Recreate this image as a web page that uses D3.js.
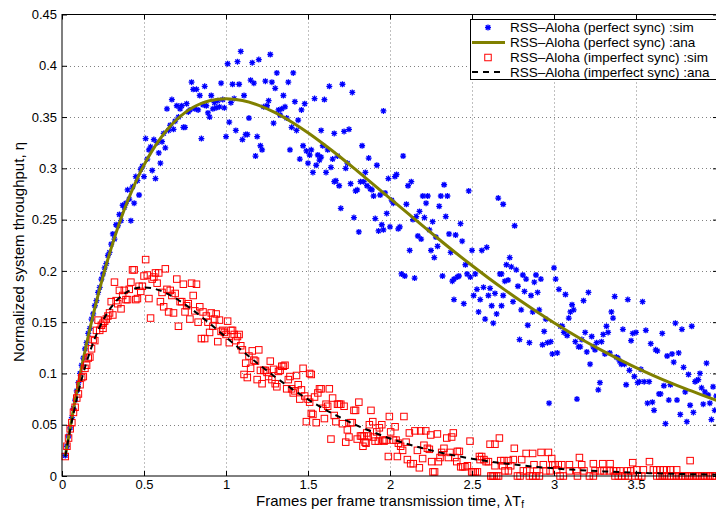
<!DOCTYPE html>
<html>
<head>
<meta charset="utf-8">
<script src="https://cdn.jsdelivr.net/npm/d3@7"></script>
<style>
body { margin: 0; background: #fff; }
text { font-family: "Liberation Sans", Arial, Helvetica, sans-serif; }
</style>
</head>
<body>
<div id="chart"></div>
<script>
var W = 716, H = 510;

var xTicks = [0, 0.5, 1, 1.5, 2, 2.5, 3, 3.5];
var yTicks = [0, 0.05, 0.1, 0.15, 0.2, 0.25, 0.3, 0.35, 0.4, 0.45];

var seriesNames = [
	"RSS\u2013Aloha (perfect sync) :sim",
	"RSS\u2013Aloha (perfect sync) :ana",
	"RSS\u2013Aloha (imperfect sync) :sim",
	"RSS\u2013Aloha (imperfect sync) :ana"
];

// analytical curves, read at these loads
var anaLoad = [0.02, 0.05, 0.1, 0.15, 0.2, 0.25, 0.3, 0.35, 0.4, 0.45, 0.5, 0.55, 0.6, 0.65, 0.7, 0.75, 0.8, 0.85, 0.9, 0.95, 1,
	1.1, 1.2, 1.3, 1.4, 1.5, 1.6, 1.7, 1.8, 1.9, 2, 2.1, 2.2, 2.3, 2.4, 2.5, 2.6, 2.7, 2.8, 2.9, 3,
	3.1, 3.2, 3.3, 3.4, 3.5, 3.6, 3.7, 3.8, 3.9, 4];
var perfectAna = [0.0196, 0.0476, 0.0905, 0.1291, 0.1637, 0.1947, 0.2222, 0.2466, 0.2681, 0.2869, 0.3033, 0.3173, 0.3293, 0.3393, 0.3476, 0.3543, 0.3595, 0.3633, 0.3659, 0.3674, 0.3679,
	0.3662, 0.3614, 0.3543, 0.3452, 0.3347, 0.3230, 0.3106, 0.2975, 0.2842, 0.2707, 0.2572, 0.2438, 0.2306, 0.2177, 0.2052, 0.1931, 0.1815, 0.1703, 0.1596, 0.1494,
	0.1397, 0.1304, 0.1217, 0.1135, 0.1057, 0.0984, 0.0915, 0.0851, 0.0791, 0.0733];
var imperfectAna = [0.0192, 0.0452, 0.0819, 0.1111, 0.1341, 0.1516, 0.1646, 0.1738, 0.1797, 0.1830, 0.1839, 0.1831, 0.1807, 0.1770, 0.1726, 0.1673, 0.1615, 0.1553, 0.1488, 0.1421, 0.1353,
	0.1219, 0.1089, 0.0966, 0.0852, 0.0747, 0.0652, 0.0568, 0.0492, 0.0426, 0.0366, 0.0315, 0.0270, 0.0231, 0.0198, 0.0168, 0.0143, 0.0122, 0.0104, 0.0088, 0.0074,
	0.0063, 0.0053, 0.0045, 0.0038, 0.0032, 0.0027, 0.0023, 0.0019, 0.0016, 0.0013];

// simulated points [load, throughput]
var perfectSim = [
	[0.02,0.020],[0.03,0.029],[0.04,0.039],[0.05,0.047],[0.06,0.057],[0.07,0.066],[0.08,0.074],[0.09,0.083],
	[0.10,0.091],[0.11,0.100],[0.12,0.108],[0.13,0.115],[0.14,0.124],[0.15,0.130],[0.16,0.139],[0.17,0.144],[0.18,0.153],[0.19,0.158],
	[0.20,0.166],[0.21,0.171],[0.22,0.179],[0.23,0.184],[0.24,0.192],[0.25,0.197],[0.26,0.203],[0.27,0.207],[0.28,0.215],[0.29,0.218],[0.30,0.226],
	[0.31,0.236],[0.32,0.231],[0.33,0.245],[0.34,0.244],[0.35,0.255],[0.36,0.249],[0.37,0.264],[0.38,0.262],[0.39,0.266],[0.40,0.279],
	[0.41,0.270],[0.42,0.249],[0.43,0.282],[0.44,0.266],[0.45,0.292],[0.46,0.288],[0.47,0.274],[0.48,0.299],[0.49,0.302],[0.50,0.292],
	[0.51,0.329],[0.52,0.309],[0.53,0.318],[0.54,0.321],[0.55,0.298],[0.56,0.328],[0.57,0.290],[0.58,0.325],[0.59,0.315],[0.60,0.305],
	[0.61,0.326],[0.62,0.334],[0.63,0.320],[0.64,0.358],[0.65,0.337],[0.66,0.342],[0.67,0.367],[0.68,0.338],[0.69,0.346],[0.70,0.361],
	[0.71,0.350],[0.72,0.358],[0.73,0.361],[0.74,0.340],[0.75,0.340],[0.76,0.363],[0.77,0.355],[0.78,0.357],[0.79,0.384],[0.80,0.377],
	[0.81,0.358],[0.82,0.377],[0.83,0.357],[0.84,0.371],[0.85,0.329],[0.86,0.362],[0.87,0.380],[0.88,0.361],[0.89,0.354],[0.90,0.350],
	[0.91,0.371],[0.92,0.358],[0.93,0.364],[0.94,0.359],[0.95,0.366],[0.96,0.360],[0.97,0.383],[0.98,0.367],[0.99,0.359],[1.00,0.331],
	[1.01,0.402],[1.02,0.345],[1.03,0.364],[1.04,0.382],[1.05,0.368],[1.06,0.337],[1.07,0.404],[1.08,0.382],[1.09,0.414],[1.10,0.328],
	[1.11,0.371],[1.12,0.333],[1.13,0.333],[1.14,0.349],[1.15,0.386],[1.16,0.403],[1.17,0.383],[1.18,0.312],[1.19,0.331],[1.20,0.406],
	[1.21,0.322],[1.22,0.318],[1.23,0.360],[1.24,0.385],[1.25,0.361],[1.26,0.366],[1.27,0.411],[1.28,0.384],[1.29,0.344],[1.30,0.378],
	[1.31,0.393],[1.32,0.357],[1.33,0.352],[1.34,0.358],[1.35,0.371],[1.36,0.360],[1.37,0.349],[1.38,0.384],[1.39,0.318],[1.40,0.340],
	[1.41,0.393],[1.42,0.365],[1.43,0.337],[1.44,0.347],[1.45,0.309],[1.46,0.357],[1.47,0.322],[1.48,0.363],[1.49,0.317],[1.50,0.305],
	[1.51,0.313],[1.52,0.318],[1.53,0.296],[1.54,0.368],[1.55,0.303],[1.56,0.313],[1.57,0.308],[1.58,0.337],[1.58,0.311],[1.59,0.322],[1.60,0.367],
	[1.61,0.296],[1.62,0.318],[1.63,0.380],[1.64,0.301],[1.65,0.309],[1.66,0.334],[1.66,0.287],[1.67,0.288],[1.68,0.312],[1.69,0.283],[1.70,0.261],
	[1.71,0.382],[1.72,0.336],[1.73,0.300],[1.74,0.305],[1.75,0.338],[1.76,0.285],[1.77,0.374],[1.78,0.252],[1.79,0.278],[1.80,0.279],
	[1.81,0.238],[1.82,0.287],[1.83,0.322],[1.84,0.287],[1.85,0.296],[1.86,0.283],[1.87,0.310],[1.88,0.280],[1.89,0.279],[1.90,0.273],
	[1.91,0.251],[1.92,0.303],[1.93,0.239],[1.94,0.274],[1.95,0.245],[1.96,0.356],[1.96,0.240],[1.97,0.276],[1.98,0.256],[1.99,0.290],[2.00,0.243],
	[2.01,0.269],[2.02,0.266],[2.03,0.292],[2.04,0.294],[2.05,0.241],[2.06,0.243],[2.07,0.197],[2.08,0.312],[2.09,0.195],[2.10,0.265],
	[2.11,0.283],[2.12,0.220],[2.13,0.287],[2.14,0.250],[2.15,0.193],[2.16,0.253],[2.17,0.234],[2.18,0.258],[2.19,0.231],[2.20,0.273],
	[2.21,0.252],[2.22,0.266],[2.23,0.273],[2.24,0.240],[2.25,0.220],[2.26,0.248],[2.27,0.213],[2.28,0.233],[2.29,0.224],[2.30,0.263],
	[2.31,0.273],[2.32,0.195],[2.33,0.284],[2.34,0.253],[2.35,0.273],[2.36,0.236],[2.37,0.218],[2.38,0.190],[2.39,0.192],[2.39,0.172],[2.40,0.235],
	[2.41,0.194],[2.42,0.195],[2.43,0.246],[2.44,0.229],[2.45,0.168],[2.46,0.206],[2.47,0.197],[2.48,0.278],[2.49,0.194],[2.50,0.220],
	[2.51,0.176],[2.52,0.197],[2.53,0.182],[2.54,0.160],[2.55,0.172],[2.56,0.220],[2.57,0.184],[2.58,0.153],[2.59,0.223],[2.60,0.176],
	[2.61,0.183],[2.62,0.166],[2.63,0.149],[2.64,0.178],[2.65,0.158],[2.66,0.271],[2.67,0.197],[2.68,0.166],[2.68,0.197],[2.69,0.265],[2.69,0.176],[2.70,0.190],
	[2.71,0.206],[2.72,0.191],[2.73,0.213],[2.74,0.204],[2.75,0.170],[2.76,0.244],[2.77,0.201],[2.78,0.185],[2.79,0.133],[2.80,0.162],
	[2.81,0.196],[2.82,0.180],[2.83,0.192],[2.84,0.147],[2.85,0.130],[2.86,0.176],[2.87,0.160],[2.88,0.189],[2.89,0.196],[2.90,0.179],
	[2.91,0.162],[2.92,0.192],[2.93,0.128],[2.94,0.141],[2.95,0.153],[2.96,0.130],[2.97,0.071],[2.98,0.131],[2.99,0.119],[3.00,0.203],
	[3.01,0.192],[3.02,0.120],[3.03,0.182],[3.04,0.146],[3.05,0.146],[3.06,0.140],[3.07,0.177],[3.08,0.137],[3.09,0.154],[3.10,0.160],
	[3.11,0.167],[3.12,0.162],[3.13,0.131],[3.14,0.075],[3.15,0.126],[3.16,0.126],[3.17,0.133],[3.18,0.171],[3.19,0.140],[3.20,0.121],
	[3.21,0.179],[3.22,0.109],[3.23,0.136],[3.24,0.126],[3.25,0.123],[3.26,0.130],[3.27,0.084],[3.28,0.091],[3.29,0.131],[3.30,0.138],
	[3.31,0.119],[3.32,0.146],[3.33,0.140],[3.34,0.120],[3.35,0.160],[3.36,0.154],[3.37,0.175],[3.38,0.116],[3.39,0.115],[3.40,0.112],
	[3.41,0.109],[3.42,0.143],[3.43,0.109],[3.44,0.089],[3.45,0.172],[3.46,0.103],[3.47,0.132],[3.48,0.139],[3.49,0.097],[3.50,0.140],
	[3.51,0.091],[3.52,0.092],[3.53,0.104],[3.54,0.170],[3.55,0.092],[3.56,0.142],[3.57,0.071],[3.58,0.092],[3.59,0.129],[3.60,0.072],
	[3.61,0.064],[3.62,0.123],[3.63,0.122],[3.64,0.080],[3.65,0.080],[3.66,0.139],[3.67,0.088],[3.68,0.051],[3.69,0.117],[3.70,0.074],
	[3.71,0.089],[3.72,0.119],[3.73,0.111],[3.74,0.149],[3.75,0.074],[3.76,0.120],[3.77,0.060],[3.78,0.143],[3.79,0.106],[3.80,0.082],
	[3.81,0.053],[3.82,0.099],[3.83,0.069],[3.84,0.146],[3.85,0.062],[3.86,0.092],[3.87,0.093],[3.88,0.094],[3.89,0.100],[3.90,0.086],
	[3.91,0.070],[3.92,0.082],[3.93,0.110],[3.94,0.079],[3.95,0.071],[3.96,0.055],[3.97,0.087],[3.98,0.064],[3.99,0.078]
];

var imperfectSim = [
	[0.02,0.019],[0.03,0.029],[0.04,0.037],[0.05,0.046],[0.06,0.052],[0.07,0.062],[0.08,0.067],[0.09,0.076],[0.10,0.080],
	[0.11,0.089],[0.12,0.096],[0.13,0.097],[0.14,0.105],[0.15,0.108],[0.16,0.115],[0.17,0.116],[0.18,0.124],[0.19,0.133],[0.20,0.132],
	[0.21,0.142],[0.22,0.152],[0.23,0.142],[0.24,0.147],[0.25,0.144],[0.25,0.149],[0.26,0.151],[0.27,0.153],[0.28,0.156],[0.29,0.159],[0.30,0.170],
	[0.31,0.157],[0.32,0.189],[0.33,0.171],[0.34,0.168],[0.35,0.181],[0.36,0.163],[0.37,0.176],[0.38,0.181],[0.39,0.172],[0.40,0.172],
	[0.41,0.182],[0.42,0.189],[0.43,0.201],[0.44,0.201],[0.45,0.172],[0.46,0.173],[0.47,0.185],[0.48,0.180],[0.49,0.185],[0.50,0.195],
	[0.51,0.211],[0.52,0.196],[0.53,0.173],[0.54,0.154],[0.55,0.192],[0.56,0.194],[0.57,0.198],[0.58,0.188],[0.59,0.198],[0.60,0.170],
	[0.61,0.179],[0.62,0.165],[0.63,0.202],[0.64,0.182],[0.65,0.160],[0.66,0.181],[0.67,0.176],[0.68,0.159],[0.69,0.178],[0.70,0.192],
	[0.71,0.146],[0.72,0.170],[0.73,0.170],[0.74,0.187],[0.75,0.160],[0.76,0.166],[0.77,0.168],[0.78,0.153],[0.79,0.188],[0.80,0.176],
	[0.81,0.161],[0.82,0.187],[0.83,0.150],[0.84,0.165],[0.85,0.134],[0.86,0.160],[0.87,0.134],[0.88,0.156],[0.89,0.150],[0.90,0.140],
	[0.91,0.159],[0.92,0.146],[0.93,0.153],[0.94,0.158],[0.95,0.131],[0.96,0.152],[0.97,0.141],[0.98,0.142],[0.99,0.140],[1.00,0.138],
	[1.01,0.151],[1.02,0.130],[1.03,0.142],[1.04,0.142],[1.05,0.138],[1.06,0.132],[1.07,0.136],[1.08,0.138],[1.09,0.127],[1.10,0.123],
	[1.11,0.099],[1.12,0.110],[1.13,0.096],[1.14,0.117],[1.15,0.105],[1.16,0.122],[1.17,0.113],[1.18,0.112],[1.19,0.094],[1.20,0.123],
	[1.21,0.103],[1.22,0.090],[1.23,0.103],[1.24,0.103],[1.25,0.101],[1.26,0.097],[1.27,0.112],[1.28,0.094],[1.29,0.104],[1.30,0.090],
	[1.31,0.087],[1.32,0.102],[1.33,0.103],[1.34,0.107],[1.35,0.107],[1.36,0.108],[1.37,0.085],[1.38,0.094],[1.39,0.097],[1.40,0.085],
	[1.41,0.081],[1.42,0.083],[1.43,0.098],[1.44,0.089],[1.45,0.075],[1.46,0.084],[1.47,0.105],[1.48,0.078],[1.49,0.053],[1.50,0.075],
	[1.51,0.100],[1.51,0.072],[1.52,0.061],[1.52,0.099],[1.53,0.060],[1.54,0.077],[1.55,0.052],[1.56,0.081],[1.57,0.085],[1.58,0.085],[1.59,0.066],[1.60,0.056],
	[1.61,0.070],[1.62,0.068],[1.63,0.085],[1.64,0.036],[1.65,0.076],[1.66,0.059],[1.67,0.053],[1.68,0.070],[1.69,0.070],[1.70,0.070],
	[1.71,0.051],[1.72,0.068],[1.73,0.033],[1.74,0.045],[1.75,0.038],[1.76,0.052],[1.77,0.052],[1.78,0.064],[1.79,0.064],[1.80,0.036],
	[1.81,0.072],[1.82,0.039],[1.83,0.039],[1.835,0.029],[1.842,0.039],[1.848,0.033],[1.854,0.032],[1.858,0.042],[1.868,0.039],[1.874,0.050],[1.884,0.064],[1.895,0.053],[1.899,0.038],
	[1.909,0.034],[1.919,0.043],[1.929,0.034],[1.935,0.047],[1.950,0.050],[1.956,0.035],[1.964,0.034],[1.976,0.035],[1.990,0.019],[1.996,0.058],[2.004,0.043],
	[2.021,0.035],[2.031,0.048],[2.037,0.035],[2.045,0.019],[2.051,0.032],
	[2.065,0.029],[2.077,0.025],[2.085,0.058],[2.098,0.033],[2.106,0.016],[2.118,0.042],[2.126,0.012],[2.142,0.012],[2.152,0.044],[2.167,0.025],[2.179,0.008],[2.187,0.044],[2.199,0.017],
	[2.207,0.030],[2.218,0.044],[2.228,0.027],[2.240,0.026],[2.248,0.040],[2.254,0.014],[2.262,0.004],[2.272,0.004],[2.289,0.041],[2.295,0.014],[2.305,0.018],[2.315,0.023],[2.329,0.027],
	[2.346,0.037],[2.356,0.018],[2.366,0.023],[2.376,0.038],[2.386,0.042],[2.396,0.018],[2.407,0.014],[2.411,0.024],[2.423,0.024],[2.431,0.009],[2.443,0.009],[2.457,0.009],[2.472,0.010],
	[2.488,0.034],[2.498,0.004],[2.508,0.004],[2.520,0.004],[2.533,0.004],[2.545,0.019],[2.549,0.016],[2.559,0.019],[2.573,0.016],[2.586,0.014],[2.600,0.014],[2.610,0.031],[2.615,0],
	[2.625,0],[2.635,0],[2.640,0.031],[2.640,0.010],[2.650,0],[2.662,0],[2.667,0.037],[2.675,0.015],[2.687,0.010],[2.695,0.015],[2.701,0.005],[2.722,0.015],[2.722,0.005],[2.736,0.010],
	[2.752,0.016],[2.758,0.027],[2.777,0],[2.793,0],[2.803,0.016],[2.813,0.005],[2.830,0.022],[2.834,0.005],[2.850,0],[2.870,0.022],[2.870,0],[2.878,0.011],[2.890,0],[2.895,0.005],
	[2.911,0],[2.921,0.023],[2.935,0.011],[2.951,0.005],[2.966,0.023],[2.976,0.005],[2.986,0.017],[2.992,0.011],[3.006,0.011],[3.016,0.006],[3.026,0.011],[3.037,0],[3.047,0.011],
	[3.057,0],[3.094,0.011],[3.094,0.005],[3.139,0.005],[3.143,0],[3.155,0.018],[3.169,0.011],[3.183,0.005],[3.216,0],[3.240,0],[3.240,0.012],[3.250,0.005],[3.281,0.005],
	[3.297,0.012],[3.305,0.005],[3.338,0.005],[3.342,0.012],[3.362,0.005],[3.372,0],[3.382,0.005],[3.392,0],[3.403,0.005],[3.413,0],[3.433,0],[3.448,0.005],[3.453,0],[3.468,0.005],
	[3.480,0.013],[3.494,0],[3.504,0.006],[3.515,0],[3.535,0],[3.545,0.006],[3.582,0.014],[3.606,0.006],[3.626,0.006],[3.627,0],[3.645,0],[3.647,0.006],[3.660,0],[3.667,0.006],
	[3.675,0],[3.687,0.006],[3.690,0],[3.710,0],[3.712,0.006],[3.730,0],[3.745,0],[3.748,0.006],[3.760,0],[3.780,0],[3.800,0],[3.815,0],[3.830,0.015],[3.830,0],[3.850,0],[3.865,0],
	[3.880,0],[3.900,0],[3.915,0],[3.930,0],[3.950,0],[3.965,0],[3.980,0]
];

var blue = "#0000ff";
var red = "#ff0000";
var olive = "#808000";
var tickFont = "13px";
var labelFont = "15px";
var sq = 6.5;

var plotL = 62, plotR = 718, plotT = 14.5, plotB = 476;

var x = d3.scaleLinear().domain([0, 4]).range([plotL, plotR]);
var y = d3.scaleLinear().domain([0, 0.45]).range([plotB, plotT]);

var svg = d3.select("#chart").append("svg")
	.attr("width", W)
	.attr("height", H);

svg.append("rect").attr("width", W).attr("height", H).attr("fill", "#fff");

svg.append("defs").append("clipPath").attr("id", "plotclip")
	.append("rect")
	.attr("x", plotL).attr("y", plotT)
	.attr("width", plotR - plotL).attr("height", plotB - plotT);

// dotted grid
var grid = svg.append("g").attr("stroke", "#808080").attr("stroke-width", 1).attr("stroke-dasharray", "1,3");
grid.selectAll("line.gx")
	.data(xTicks.slice(1))
	.enter()
	.append("line")
	.attr("x1", d => Math.round(x(d)) + 0.5)
	.attr("x2", d => Math.round(x(d)) + 0.5)
	.attr("y1", plotT)
	.attr("y2", plotB);
grid.selectAll("line.gy")
	.data(yTicks.slice(1, -1))
	.enter()
	.append("line")
	.attr("x1", plotL)
	.attr("x2", plotR)
	.attr("y1", d => Math.round(y(d)) + 0.5)
	.attr("y2", d => Math.round(y(d)) + 0.5);

// perfect sync: sim stars, then analytical line
var star = "M-3,0H3M0,-3V3M-2.2,-2.2L2.2,2.2M-2.2,2.2L2.2,-2.2";
svg.append("g").selectAll("path")
	.data(perfectSim)
	.enter()
	.append("path")
	.attr("transform", d => "translate(" + x(d[0]) + "," + y(d[1]) + ")")
	.attr("d", star)
	.attr("fill", "none")
	.attr("stroke", blue)
	.attr("stroke-width", 1.3);

var line = d3.line()
	.x((d, i) => x(anaLoad[i]))
	.y(d => y(d))
	.curve(d3.curveMonotoneX);

svg.append("path")
	.datum(perfectAna)
	.attr("clip-path", "url(#plotclip)")
	.attr("d", line)
	.attr("fill", "none")
	.attr("stroke", olive)
	.attr("stroke-width", 3);

// imperfect sync: sim squares, then analytical dashed line
svg.append("g").selectAll("rect")
	.data(imperfectSim)
	.enter()
	.append("rect")
	.attr("x", d => x(d[0]) - sq / 2)
	.attr("y", d => y(d[1]) - sq / 2)
	.attr("width", sq)
	.attr("height", sq)
	.attr("fill", "none")
	.attr("stroke", red)
	.attr("stroke-width", 1);

svg.append("path")
	.datum(imperfectAna)
	.attr("clip-path", "url(#plotclip)")
	.attr("d", line)
	.attr("fill", "none")
	.attr("stroke", "#000")
	.attr("stroke-width", 2)
	.attr("stroke-dasharray", "6,5");

// axes, ticks pointing inward
function styleAxis(g) {
	g.select(".domain").remove();
	g.selectAll("line").attr("stroke", "#000");
	g.selectAll("text")
		.attr("fill", "#000")
		.style("font-size", tickFont)
		.style("font-family", "'Liberation Sans', Arial, Helvetica, sans-serif");
}

svg.append("g")
	.attr("transform", "translate(0," + plotB + ")")
	.call(d3.axisBottom(x).tickValues(xTicks).tickSizeInner(-5).tickSizeOuter(0).tickPadding(3.5).tickFormat(d3.format("")))
	.call(styleAxis);
svg.append("g")
	.attr("transform", "translate(0," + plotT + ")")
	.call(d3.axisTop(x).tickValues(xTicks).tickSizeInner(-5).tickSizeOuter(0).tickFormat(""))
	.call(styleAxis);
svg.append("g")
	.attr("transform", "translate(" + plotL + ",0)")
	.call(d3.axisLeft(y).tickValues(yTicks).tickSizeInner(-5).tickSizeOuter(0).tickPadding(5).tickFormat(d3.format("")))
	.call(styleAxis);
svg.append("g")
	.attr("transform", "translate(" + plotR + ",0)")
	.call(d3.axisRight(y).tickValues(yTicks).tickSizeInner(-5).tickSizeOuter(0).tickFormat(""))
	.call(styleAxis);

svg.append("rect")
	.attr("x", plotL)
	.attr("y", plotT)
	.attr("width", plotR - plotL)
	.attr("height", plotB - plotT)
	.attr("fill", "none")
	.attr("stroke", "#000")
	.attr("stroke-width", 1);

// axis titles
var xl = svg.append("text")
	.attr("x", (plotL + plotR) / 2)
	.attr("y", 506)
	.attr("text-anchor", "middle")
	.style("font-size", labelFont)
	.text("Frames per frame transmission time,  \u03bbT");
xl.append("tspan").attr("dy", 1.5).style("font-size", "10px").text("f");

svg.append("text")
	.attr("transform", "translate(24,252) rotate(-90)")
	.attr("text-anchor", "middle")
	.style("font-size", labelFont)
	.text("Normalized system throughput,  \u03b7");

// legend
var lg = svg.append("g");
lg.append("rect")
	.attr("x", 470.5).attr("y", 19.5)
	.attr("width", 260).attr("height", 60)
	.attr("fill", "#fff")
	.attr("stroke", "#000");

var rowY = [27.5, 42.5, 57.5, 72];
lg.selectAll("text")
	.data(seriesNames)
	.enter()
	.append("text")
	.attr("x", 510)
	.attr("y", (d, i) => rowY[i])
	.attr("dy", "0.36em")
	.style("font-size", "13.5px")
	.text(d => d);

lg.append("path")
	.attr("transform", "translate(488," + rowY[0] + ")")
	.attr("d", star).attr("stroke", blue).attr("stroke-width", 1.3).attr("fill", "none");
lg.append("line")
	.attr("x1", 472).attr("x2", 505).attr("y1", rowY[1]).attr("y2", rowY[1])
	.attr("stroke", olive).attr("stroke-width", 3);
lg.append("rect")
	.attr("x", 488 - sq / 2).attr("y", rowY[2] - sq / 2).attr("width", sq).attr("height", sq)
	.attr("fill", "none").attr("stroke", red);
lg.append("line")
	.attr("x1", 472).attr("x2", 505).attr("y1", rowY[3]).attr("y2", rowY[3])
	.attr("stroke", "#000").attr("stroke-width", 2).attr("stroke-dasharray", "6,5");
</script>
</body>
</html>
